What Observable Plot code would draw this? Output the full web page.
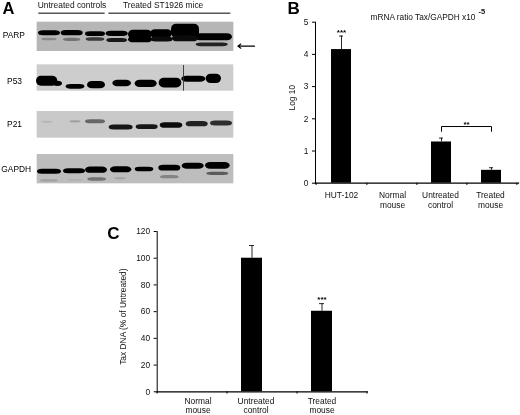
<!DOCTYPE html>
<html>
<head>
<meta charset="utf-8">
<script src="https://cdn.jsdelivr.net/npm/d3@7"></script>
<script src="https://cdn.jsdelivr.net/npm/@observablehq/plot@0.6"></script>
<style>
html,body{margin:0;padding:0;background:#fff;}
#page{position:relative;width:520px;height:415px;overflow:hidden;background:#fff;filter:blur(0.3px);}
#page svg{position:absolute;background:transparent;overflow:visible;}
</style>
</head>
<body>
<div id="page"></div>
<script>
// ---- Panel A: blot bands (blot units: 780 wide, 600 tall) ----
const blotNames = ["PARP", "P53", "P21", "GAPDH"];
const blotTop = [65, 193, 333, 462];
const blotBottom = [153, 272, 413, 550];
const blotShade = [0.2, 0.1, 0.12, 0.17];
const blotLabelX = [40, 42, 42, 47];
const blotLabelY = [103, 243, 370, 507];

const parpX = [147,215,285,350,420,483,555,640, 147,215,285,350,420,485,555,635];
const parpW = [66,66,60,66,72,66,84,112, 46,52,56,62,72,66,78,96];
const parpY = [98,98,101,100,103,100,92,110, 117,118,117,120,118,117,115,133];
const parpT = [15,16,14,16,28,24,42,21, 8,10,11,12,18,15,18,11];
const parpI = [1,1,1,1,1,1,1,1, 0.4,0.5,0.75,0.9,1,0.95,0.95,0.85];

const p53X = [140,172,225,288,365,437,510,580,640];
const p53W = [64,28,56,54,56,66,68,72,46];
const p53Y = [242,250,259,254,249,250,248,236,235];
const p53T = [30,16,14,22,20,22,29,18,28];
const p53I = [1,1,1,1,1,1,1,1,1];

const p21X = [140,225,285,362,440,513,590,663];
const p21W = [34,34,60,72,66,68,66,66];
const p21Y = [365,364,364,381,380,375,371,369];
const p21T = [6,7,12,15,14,17,16,15];
const p21I = [0.2,0.3,0.55,0.9,0.9,0.95,0.85,0.8];

const gapdhX = [147,222,288,362,432,508,578,652, 147,225,290,360,508,652];
const gapdhW = [72,66,66,64,56,66,66,74, 54,44,56,34,56,66];
const gapdhY = [514,512,509,508,507,503,497,496, 541,540,537,535,530,520];
const gapdhT = [15,15,19,18,14,17,18,20, 7,6,10,6,10,10];
const gapdhI = [1,1,1,1,1,1,1,1, 0.3,0.22,0.5,0.3,0.42,0.6];

const headerText = ["Untreated controls", "Treated ST1926 mice"];
const headerFrom = [115, 325];
const headerTo = [314, 691];
const headerX = [214.5, 488];

// ---- Panel B ----
const catsB = ["HUT-102", "Normal\nmouse", "Untreated\ncontrol", "Treated\nmouse"];
const valuesB = [4.15, 0, 1.28, 0.4];
const errorTopB = [4.57, 0, 1.4, 0.48];
const ticksB = [0, 1, 2, 3, 4, 5];

// ---- Panel C ----
const catsC = ["Normal\nmouse", "Untreated\ncontrol", "Treated\nmouse"];
const valuesC = [0, 100, 60.3];
const errorTopC = [0, 109.5, 66];
const ticksC = [0, 20, 40, 60, 80, 100, 120];

const FONT = "'Liberation Sans', Arial, sans-serif";
const page = document.getElementById("page");
function place(svg, left, top) {
  svg.style.left = left + "px";
  svg.style.top = top + "px";
  page.appendChild(svg);
  return svg;
}

// ---------- Panel A ----------
function bands(xs, ws, ys, ts, is) {
  return xs.map((x, i) => ({x, w: ws[i], y: ys[i], t: ts[i], v: is[i]}));
}
const allBands = [
  ...bands(parpX, parpW, parpY, parpT, parpI),
  ...bands(p53X, p53W, p53Y, p53T, p53I),
  ...bands(p21X, p21W, p21Y, p21T, p21I),
  ...bands(gapdhX, gapdhW, gapdhY, gapdhT, gapdhI)
];
const blots = blotNames.map((name, i) => ({name, top: blotTop[i], bottom: blotBottom[i], shade: blotShade[i], lx: blotLabelX[i], ly: blotLabelY[i]}));
const headers = headerText.map((t, i) => ({t, a: headerFrom[i], b: headerTo[i], m: headerX[i]}));

const plotA = Plot.plot({
  width: 260, height: 200,
  margin: 0,
  style: {fontFamily: FONT, fontSize: "8.4px", color: "#000", background: "transparent"},
  x: {domain: [0, 780], range: [0, 260], axis: null},
  y: {domain: [0, 600], range: [0, 200], axis: null},
  color: {type: "linear", domain: [0, 1], range: ["#e4e4e4", "#000000"]},
  marks: [
    Plot.rect(blots, {x1: 110, x2: 700, y1: "top", y2: "bottom", fill: d => d.shade}),
    Plot.rect(allBands, {x1: d => d.x - d.w / 2, x2: d => d.x + d.w / 2, y1: d => d.y - d.t / 2, y2: d => d.y + d.t / 2, fill: "v", rx: 5, ariaLabel: "bands"}),
    Plot.ruleX([549], {y1: 195, y2: 272, stroke: "#333", strokeWidth: 0.9, ariaLabel: "bands"}),
    Plot.text(blots, {x: "lx", y: "ly", text: "name", fill: "#000"}),
    Plot.text(headers, {x: "m", y: 14, text: "t", fill: "#111"}),
    Plot.ruleY(headers, {x1: "a", x2: "b", y: 38, stroke: "#000", strokeWidth: 1}),
    Plot.arrow([0], {x1: 762, x2: 712, y1: 137, y2: 137, stroke: "#000", strokeWidth: 1.1, headLength: 5, headAngle: 70}),
    Plot.text(["A"], {frameAnchor: "top-left", dx: 2, dy: 2, lineAnchor: "top", textAnchor: "start", fontSize: 16.5, fontWeight: "bold", fill: "#000"})
  ]
});
place(plotA, 0, 0);
d3.select(plotA).selectAll('g[aria-label="bands"]').style("filter", "blur(1.2px)");

// ---------- shared bar panel ----------
function barPanel(o) {
  const rows = o.cats.map((c, i) => ({c, v: o.values[i], e: o.errors[i]}));
  const shown = rows.filter(d => d.v > 0);
  const bw = (o.width - o.marginLeft - o.marginRight) / o.cats.length;
  return Plot.plot({
    width: o.width, height: o.height,
    marginLeft: o.marginLeft, marginRight: o.marginRight, marginTop: o.marginTop, marginBottom: o.marginBottom,
    style: {fontFamily: FONT, fontSize: "8.4px", color: "#000", background: "transparent"},
    x: {domain: o.cats, type: "band", paddingInner: o.pad, paddingOuter: o.pad / 2, axis: null},
    y: {domain: o.yDomain, axis: null},
    marks: [
      Plot.ruleX(shown, {x: "c", y1: "v", y2: "e", stroke: "#111", strokeWidth: 0.9, dx: o.barDx}),
      Plot.tickY(shown, {x: "c", y: "e", stroke: "#111", strokeWidth: 0.9, insetLeft: 8, insetRight: 8, dx: o.barDx}),
      Plot.barY(shown, {x: "c", y: "v", fill: "#000", dx: o.barDx}),
      Plot.frame({anchor: "left", stroke: "#000", strokeWidth: 1}),
      Plot.frame({anchor: "bottom", stroke: "#000", strokeWidth: 1.3}),
      Plot.axisY({ticks: o.ticks, tickSize: 3, tickPadding: 4, tickFormat: "d", label: null, stroke: "#000", fill: "#111"}),
      Plot.ruleX(o.cats, {x: d => d, y1: 0, y2: o.tickDown, dx: bw / 2, stroke: "#000"}),
      Plot.ruleX(o.cats.slice(0, 1), {x: d => d, y1: 0, y2: o.tickDown, dx: -bw / 2, stroke: "#000"}),
      ...o.cats.map((c, i) => Plot.text([c], {x: d => d, frameAnchor: "bottom", lineAnchor: "top", dy: o.labelDy, dx: o.labelDx[i], lineHeight: 1.15, fill: "#111"})),
      Plot.text([o.yLabel], {frameAnchor: "left", textAnchor: "middle", rotate: -90, dx: o.yLabelDx, dy: o.yLabelDy, fill: "#111"}),
      ...o.extra
    ]
  });
}

// ---------- Panel B ----------
const bracketB = [
  {x: catsB[2], y: 1.61}, {x: catsB[2], y: 1.76},
  {x: catsB[3], y: 1.76}, {x: catsB[3], y: 1.61}
];
const plotB = barPanel({
  cats: catsB, values: valuesB, errors: errorTopB, ticks: ticksB,
  width: 250, height: 210, marginLeft: 45, marginRight: 2, marginTop: 21.7, marginBottom: 27.3,
  pad: 0.595, yDomain: [0, 5], tickDown: -0.07, barDx: 0, labelDx: [0, 1, -1, -1], labelDy: 8,
  yLabel: "Log 10", yLabelDx: -23, yLabelDy: -5,
  extra: [
    Plot.line(bracketB, {x: "x", y: "y", stroke: "#000", strokeWidth: 1, curve: "linear"}),
    Plot.text(["***"], {x: () => catsB[0], y: () => 4.68, fill: "#000", fontSize: 8, fontWeight: "bold"}),
    Plot.text(["**"], {x: () => catsB[3], y: () => 1.83, dx: -25, fill: "#000", fontSize: 8, fontWeight: "bold"}),
    Plot.text(["mRNA ratio Tax/GAPDH x10"], {frameAnchor: "top-left", dx: 55, dy: -5, textAnchor: "start", lineAnchor: "middle", fontSize: 8.3, fill: "#111"}),
    Plot.text(["-5"], {frameAnchor: "top-left", dx: 163, dy: -10.7, textAnchor: "start", lineAnchor: "middle", fontSize: 7.5, fontWeight: "bold", fill: "#111"}),
    Plot.text(["B"], {frameAnchor: "top-left", dx: -28, dy: -20.5, lineAnchor: "top", textAnchor: "start", fontSize: 17, fontWeight: "bold", fill: "#000"})
  ]
});
place(plotB, 270, 0);

// ---------- Panel C ----------
const plotC = barPanel({
  cats: catsC, values: valuesC, errors: errorTopC, ticks: ticksC,
  width: 270, height: 195, marginLeft: 56.7, marginRight: 3.3, marginTop: 11, marginBottom: 23.7,
  pad: 0.705, yDomain: [0, 120], tickDown: -1.7, barDx: -10, labelDx: [6, -6, -10], labelDy: 5,
  yLabel: "Tax DNA (% of Untreated)", yLabelDx: -33.7, yLabelDy: 5,
  extra: [
    Plot.text(["***"], {x: () => catsC[2], y: () => 69.5, dx: -10, fill: "#000", fontSize: 8, fontWeight: "bold"}),
    Plot.text(["C"], {frameAnchor: "top-left", dx: -50, dy: -5, lineAnchor: "top", textAnchor: "start", fontSize: 17, fontWeight: "bold", fill: "#000"})
  ]
});
place(plotC, 100, 220);
</script>
</body>
</html>
